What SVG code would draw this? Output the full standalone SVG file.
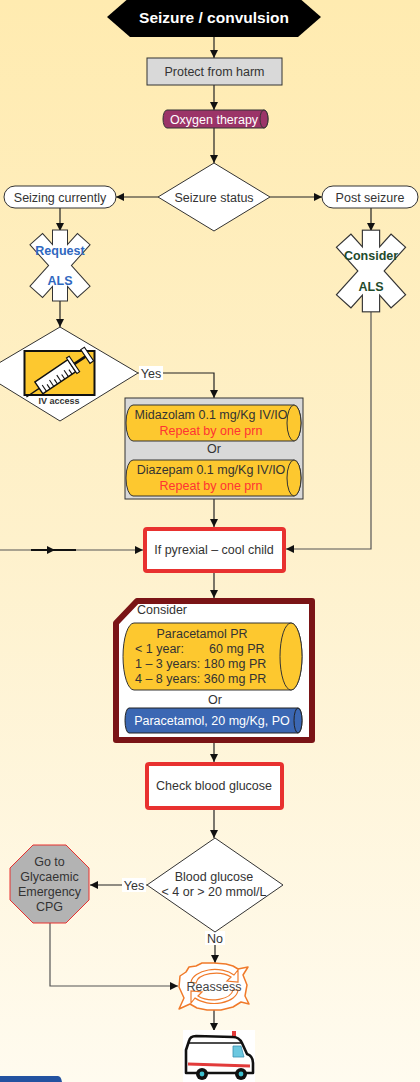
<svg xmlns="http://www.w3.org/2000/svg" xmlns:xlink="http://www.w3.org/1999/xlink" width="420" height="1082" viewBox="0 0 420 1082">
  <defs>
    <linearGradient id="bg" x1="0" y1="0" x2="0" y2="1">
      <stop offset="0" stop-color="#FFEBB0"/>
      <stop offset="0.5" stop-color="#FEF1CC"/>
      <stop offset="1" stop-color="#FFFBEF"/>
    </linearGradient>
    <marker id="arrow" viewBox="0 0 10 10" refX="10" refY="5" markerWidth="8" markerHeight="8" markerUnits="userSpaceOnUse" orient="auto">
      <path d="M0,0 L10,5 L0,10 Z" fill="#111"/>
    </marker>
    <!-- star of life: vertical bar plus two crossed arms -->
    <g id="star-bars">
      <rect x="-7" y="-35" width="14" height="70"/>
      <rect x="-35" y="-8" width="70" height="16" transform="rotate(48)"/>
      <rect x="-35" y="-8" width="70" height="16" transform="rotate(-48)"/>
    </g>
    <style>
      .t { font-family: "Liberation Sans", Arial, sans-serif; font-size: 12.5px; fill: #333; text-anchor: middle; dominant-baseline: central; }
      .b { font-weight: bold; }
      .edge { fill: none; stroke: #222; stroke-width: 1.2; }
      .edge-g { fill: none; stroke: #555; stroke-width: 1.2; }
      .lbl { fill: #fff; }
      .red-box { fill: #fff; stroke: #E8312F; stroke-width: 4; }
      .cyl-y { fill: #FDC82F; stroke: #333; stroke-width: 1; }
      .star-line { fill: #333; stroke: #333; stroke-width: 2; }
      .star-fill { fill: #fff; stroke: none; }
    </style>
  </defs>

  <rect x="0" y="0" width="420" height="1082" fill="url(#bg)"/>

  <!-- connectors -->
  <g id="connectors">
    <path class="edge" d="M214,37 V58" marker-end="url(#arrow)"/>
    <path class="edge" d="M214,85 V110" marker-end="url(#arrow)"/>
    <path class="edge" d="M214,128 V163" marker-end="url(#arrow)"/>
    <path class="edge" d="M158,197 H116" marker-end="url(#arrow)"/>
    <path class="edge" d="M270,197 H322" marker-end="url(#arrow)"/>
    <path class="edge" d="M60,208 V231" marker-end="url(#arrow)"/>
    <path class="edge" d="M371,208 V231" marker-end="url(#arrow)"/>
    <path class="edge" d="M60,300 V327" marker-end="url(#arrow)"/>
    <path class="edge" d="M138,373 H214 V398" marker-end="url(#arrow)"/>
    <path class="edge" d="M214,499 V527" marker-end="url(#arrow)"/>
    <path class="edge-g" d="M0,550 H143" marker-end="url(#arrow)"/>
    <path d="M31,550 H76" stroke="#111" stroke-width="2" fill="none"/>
    <path d="M48,550 H55" stroke="none" fill="none" marker-end="url(#arrow)"/>
    <path class="edge-g" d="M371,311 V549 H286" marker-end="url(#arrow)"/>
    <path class="edge" d="M214,573 V598" marker-end="url(#arrow)"/>
    <path class="edge" d="M214,743 V762" marker-end="url(#arrow)"/>
    <path class="edge" d="M214,810 V838" marker-end="url(#arrow)"/>
    <path class="edge" d="M147,885 H90" marker-end="url(#arrow)"/>
    <path class="edge" d="M215,932 V963" marker-end="url(#arrow)"/>
    <path class="edge-g" d="M50,923 V986 H178" marker-end="url(#arrow)"/>
    <path class="edge" d="M214,1010 V1031" marker-end="url(#arrow)"/>
    <!-- edge labels -->
    <rect class="lbl" x="139" y="366" width="24" height="14"/>
    <text class="t" x="151" y="373.5">Yes</text>
    <rect class="lbl" x="122" y="878" width="24" height="14"/>
    <text class="t" x="134" y="885.5">Yes</text>
    <rect class="lbl" x="205" y="931" width="20" height="14"/>
    <text class="t" x="215" y="938.5">No</text>
  </g>

  <!-- title -->
  <g id="title">
    <polygon points="107,17 130,-3 298,-3 321,17 298,37 130,37" fill="#000"/>
    <text class="t b" x="214" y="17.5" style="fill:#fff;font-size:15.5px">Seizure / convulsion</text>
  </g>

  <g id="protect">
    <rect x="147" y="58" width="135" height="27" fill="#D9D9D9" stroke="#333" stroke-width="1"/>
    <text class="t" x="214.5" y="71.5">Protect from harm</text>
  </g>

  <g id="oxygen">
    <path d="M167,110 H264 A4,9 0 0 1 264,128 H167 A4,9 0 0 1 167,110 Z" fill="#9B3468" stroke="#333" stroke-width="1"/>
    <ellipse cx="264" cy="119" rx="4" ry="9" fill="#9B3468" stroke="#333" stroke-width="1"/>
    <text class="t" x="214" y="119.5" style="fill:#fff">Oxygen therapy</text>
  </g>

  <g id="seizure-status">
    <polygon points="214,163 270,197 214,231 158,197" fill="#fff" stroke="#333" stroke-width="1"/>
    <text class="t" x="214" y="197.5">Seizure status</text>
  </g>

  <g id="seizing-currently">
    <rect x="4" y="186" width="112" height="22" rx="11" fill="#fff" stroke="#333" stroke-width="1"/>
    <text class="t" x="60" y="197.5">Seizing currently</text>
  </g>

  <g id="post-seizure">
    <rect x="322" y="186" width="96" height="22" rx="11" fill="#fff" stroke="#333" stroke-width="1"/>
    <text class="t" x="370" y="197.5">Post seizure</text>
  </g>

  <g id="request-als">
    <use xlink:href="#star-bars" class="star-line" transform="translate(60,265.5)"/>
    <use xlink:href="#star-bars" class="star-fill" transform="translate(60,265.5)"/>
    <text class="t b" x="60" y="251" style="fill:#2F68C0">Request</text>
    <text class="t b" x="60" y="281" style="fill:#2F68C0">ALS</text>
  </g>

  <g id="consider-als">
    <use xlink:href="#star-bars" class="star-line" transform="translate(371,271) scale(1.15)"/>
    <use xlink:href="#star-bars" class="star-fill" transform="translate(371,271) scale(1.15)"/>
    <text class="t b" x="371" y="256" style="fill:#1F4B2C">Consider</text>
    <text class="t b" x="371" y="286.5" style="fill:#1F4B2C">ALS</text>
  </g>

  <g id="iv-access">
    <polygon points="60,327 138,373 60,421 -18,373" fill="#fff" stroke="#333" stroke-width="1"/>
    <rect x="24.5" y="351" width="70" height="44" fill="#FDC82F" stroke="#111" stroke-width="2"/>
    <!-- syringe -->
    <g transform="translate(58,373) rotate(-34) scale(1.1)">
      <line x1="-36" y1="2" x2="-22" y2="2" stroke="#111" stroke-width="1.2"/>
      <rect x="-22" y="-5" width="36" height="13" fill="#fff" stroke="#111" stroke-width="1.3"/>
      <g stroke="#111" stroke-width="1">
        <line x1="-18" y1="8" x2="-18" y2="1"/>
        <line x1="-14" y1="8" x2="-14" y2="3"/>
        <line x1="-10" y1="8" x2="-10" y2="1"/>
        <line x1="-6" y1="8" x2="-6" y2="3"/>
        <line x1="-2" y1="8" x2="-2" y2="1"/>
        <line x1="2" y1="8" x2="2" y2="3"/>
        <line x1="6" y1="8" x2="6" y2="1"/>
        <line x1="10" y1="8" x2="10" y2="3"/>
      </g>
      <rect x="14" y="-7" width="3" height="17" fill="#fff" stroke="#111" stroke-width="1"/>
      <line x1="17" y1="1.5" x2="29" y2="1.5" stroke="#111" stroke-width="2.5"/>
      <rect x="29" y="-6" width="4" height="15" fill="#fff" stroke="#111" stroke-width="1"/>
    </g>
    <text class="t b" x="59" y="401" style="font-size:9px">IV access</text>
  </g>

  <g id="benzodiazepine">
    <rect x="125" y="398" width="178" height="101" fill="#D9D9D9" stroke="#333" stroke-width="1"/>
    <path d="M133,405 H294 A7,18 0 0 1 294,441 H133 A7,18 0 0 1 133,405 Z" class="cyl-y"/>
    <ellipse cx="294" cy="423" rx="7" ry="18" class="cyl-y"/>
    <text class="t" x="211" y="415">Midazolam 0.1 mg/Kg IV/IO</text>
    <text class="t" x="211" y="430.5" style="fill:#FF3333">Repeat by one prn</text>
    <text class="t" x="214" y="449">Or</text>
    <path d="M133,460 H294 A7,18 0 0 1 294,496 H133 A7,18 0 0 1 133,460 Z" class="cyl-y"/>
    <ellipse cx="294" cy="478" rx="7" ry="18" class="cyl-y"/>
    <text class="t" x="211" y="470">Diazepam 0.1 mg/Kg IV/IO</text>
    <text class="t" x="211" y="485.5" style="fill:#FF3333">Repeat by one prn</text>
  </g>

  <g id="pyrexial">
    <rect x="145" y="529" width="139" height="42" rx="2" class="red-box"/>
    <text class="t" x="214" y="550">If pyrexial – cool child</text>
  </g>

  <g id="paracetamol">
    <path d="M137,601 H312 V740 H116 V623 Z" fill="#fff" stroke="#7A1416" stroke-width="6" stroke-linejoin="round"/>
    <text class="t" x="137" y="610" style="text-anchor:start">Consider</text>
    <path d="M134,623 H291 A11,33.5 0 0 1 291,690 H134 A11,33.5 0 0 1 134,623 Z" class="cyl-y"/>
    <ellipse cx="291" cy="656.5" rx="11" ry="33.5" class="cyl-y"/>
    <text class="t" x="202" y="634">Paracetamol PR</text>
    <text class="t" x="135" y="649" style="text-anchor:start">&lt; 1 year:</text>
    <text class="t" x="209" y="649" style="text-anchor:start">60 mg PR</text>
    <text class="t" x="135" y="664" style="text-anchor:start">1 – 3 years: 180 mg PR</text>
    <text class="t" x="135" y="679" style="text-anchor:start">4 – 8 years: 360 mg PR</text>
    <text class="t" x="215" y="700">Or</text>
    <path d="M129,708 H298 A4,12.5 0 0 1 298,733 H129 A4,12.5 0 0 1 129,708 Z" fill="#3B67B3" stroke="#222" stroke-width="1"/>
    <ellipse cx="298" cy="720.5" rx="4" ry="12.5" fill="#3B67B3" stroke="#222" stroke-width="1"/>
    <text class="t" x="212" y="721" style="fill:#fff">Paracetamol, 20 mg/Kg, PO</text>
  </g>

  <g id="blood-glucose-check">
    <rect x="147" y="764" width="135" height="44" rx="2" class="red-box"/>
    <text class="t" x="214" y="786">Check blood glucose</text>
  </g>

  <g id="blood-glucose-decision">
    <polygon points="215,838 283,885 215,932 147,885" fill="#fff" stroke="#333" stroke-width="1"/>
    <text class="t" x="214" y="877">Blood glucose</text>
    <text class="t" x="214" y="892">&lt; 4 or &gt; 20 mmol/L</text>
  </g>

  <g id="glycaemic-cpg">
    <polygon points="33,845 66,845 89,868 89,900 66,923 33,923 10,900 10,868" fill="#B3B3B3" stroke="#E8312F" stroke-width="1"/>
    <text class="t" x="49.5" y="862">Go to</text>
    <text class="t" x="49.5" y="877">Glycaemic</text>
    <text class="t" x="49.5" y="892">Emergency</text>
    <text class="t" x="49.5" y="907">CPG</text>
  </g>

  <g id="reassess">
    <!-- spiky ring with circular arrows -->
    <path d="M180,976 L186,972 L189,967 L196,966 L202,963 L214,963 L226,964 L233,966 L238,969 L248,967 L243,975 L247,985 L245,996 L249,1004 L241,1002 L233,1007 L221,1010 L207,1010 L197,1008 L190,1004 L179,1009 L184,998 L179,987 Z" fill="#fff" stroke="#F07A2A" stroke-width="1.5" stroke-linejoin="round"/>
    <path d="M191,982 A24,14 0 0 1 234,975 L238,970 L238,982 L227,981 L231,977 A20,11 0 0 0 196,983 Z" fill="#fff" stroke="#F07A2A" stroke-width="1.2"/>
    <path d="M238,990 A24,14 0 0 1 195,998 L191,1003 L191,991 L202,992 L198,996 A20,11 0 0 0 233,990 Z" fill="#fff" stroke="#F07A2A" stroke-width="1.2"/>
    <text class="t" x="214" y="986.5" style="fill:#444">Reassess</text>
  </g>

  <g id="ambulance">
    <rect x="183" y="1030" width="72" height="52" fill="#fff"/>
    <rect x="232" y="1031" width="4" height="6" fill="#E23B3B"/>
    <path d="M189,1041 Q190,1036 196,1036 L233,1037 Q239,1037 242,1043 L247,1054 Q253,1056 253,1063 L253,1073 L186,1073 L186,1050 Z" fill="#fff" stroke="#111" stroke-width="2.6" stroke-linejoin="round"/>
    <line x1="189" y1="1043" x2="241" y2="1043" stroke="#111" stroke-width="1.5"/>
    <path d="M233,1046 L241,1046 L244,1057 L233,1057 Z" fill="#6CC8E0" stroke="#3a8fb0" stroke-width="0.8"/>
    <path d="M188,1064 L250,1066" stroke="#E23B3B" stroke-width="3"/>
    <circle cx="202" cy="1074" r="6" fill="#111"/>
    <circle cx="202" cy="1074" r="2.4" fill="#3CC0D0"/>
    <circle cx="241" cy="1074" r="6" fill="#111"/>
    <circle cx="241" cy="1074" r="2.4" fill="#3CC0D0"/>
  </g>

  <!-- page tab -->
  <path d="M0,1076 H58 Q61,1076 62,1082 H0 Z" fill="#2352A0"/>
</svg>
